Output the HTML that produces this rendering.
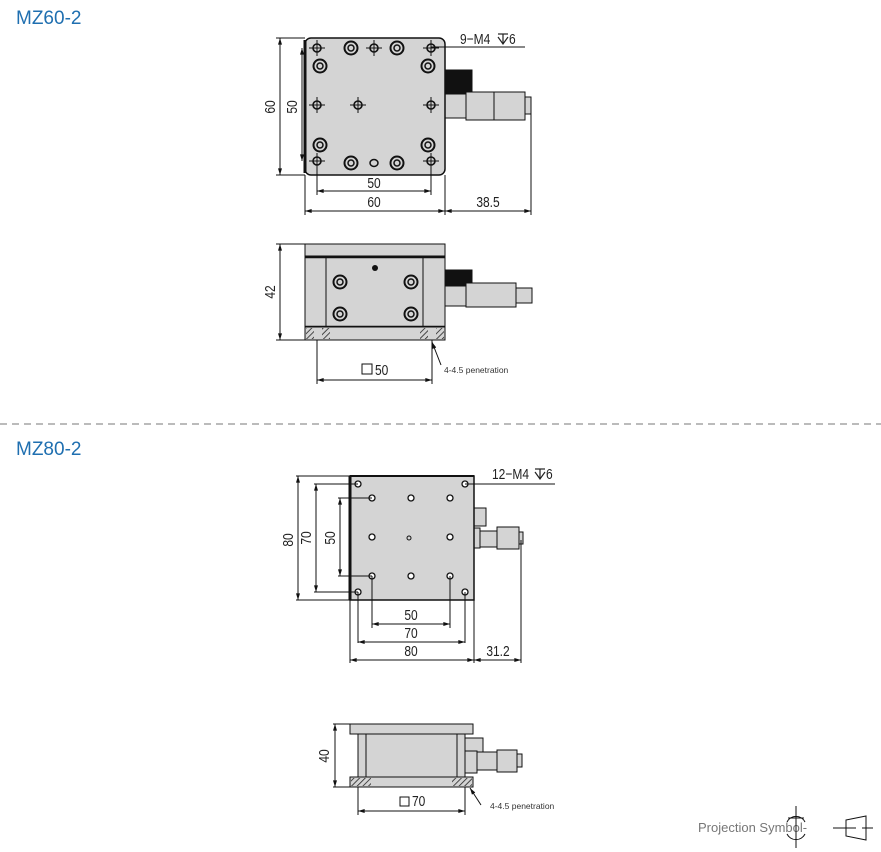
<!DOCTYPE html>
<html><head><meta charset="utf-8"><style>
body{margin:0;background:#fff;width:881px;height:852px;overflow:hidden}
svg{display:block}
.t{font-family:"Liberation Sans",sans-serif;font-size:15px;fill:#222}
.h{font-family:"Liberation Sans",sans-serif;font-size:19px;fill:#1f6fb0}
.s{font-family:"Liberation Sans",sans-serif;font-size:8.5px;fill:#333}
</style></head><body>
<svg width="881" height="852" viewBox="0 0 881 852" xmlns="http://www.w3.org/2000/svg">
<defs>
<marker id="a" viewBox="0 0 10 6" refX="10" refY="3" markerWidth="8" markerHeight="4" orient="auto-start-reverse"><path d="M0,0L10,3L0,6z" fill="#111"/></marker>
<pattern id="hp" width="4" height="4" patternUnits="userSpaceOnUse" patternTransform="rotate(45)"><rect width="4" height="4" fill="#d4d4d4"/><line x1="0" y1="0" x2="0" y2="4" stroke="#222" stroke-width="1.6"/></pattern>
<g id="big"><circle r="6.5" fill="none" stroke="#111" stroke-width="2"/><circle r="3" fill="none" stroke="#111" stroke-width="1.5"/></g>
<g id="sm"><circle r="4" fill="none" stroke="#111" stroke-width="1.6"/><line x1="-8" x2="8" stroke="#111"/><line y1="-8" y2="8" stroke="#111"/></g>
<g id="h8"><circle r="3" fill="#fff" stroke="#111" stroke-width="1.3"/></g>
<g id="dp" stroke="#222" stroke-width="1.2" fill="none"><line x1="-5" y1="-10" x2="5" y2="-10"/><line x1="0" y1="-10" x2="0" y2="0"/><path d="M-5,-7 L0,0 L5,-7"/></g>
</defs>
<text class="h" x="16" y="24">MZ60-2</text>
<text class="h" x="16" y="455">MZ80-2</text>
<line x1="0" y1="424" x2="881" y2="424" stroke="#777" stroke-dasharray="7,5"/>

<!-- MZ60 top -->
<g stroke="#111" fill="none">
<rect x="445" y="92" width="22" height="26" fill="#d4d4d4"/>
<rect x="446" y="70" width="26" height="24" fill="#111"/>
<rect x="466" y="92" width="59" height="28" fill="#d4d4d4"/>
<line x1="494" y1="92" x2="494" y2="120"/>
<rect x="525" y="97" width="6" height="17" fill="#d4d4d4"/>
<rect x="305" y="38" width="140" height="137" rx="6" fill="#d4d4d4" stroke-width="1.5"/>
<line x1="305" y1="40" x2="305" y2="173" stroke-width="3"/>
</g>
<use href="#sm" x="317" y="48"/><use href="#sm" x="374" y="48"/><use href="#sm" x="431" y="48"/>
<use href="#sm" x="317" y="161"/><use href="#sm" x="431" y="161"/>
<use href="#sm" x="317" y="105"/><use href="#sm" x="358" y="105"/><use href="#sm" x="431" y="105"/>
<use href="#big" x="351" y="48"/><use href="#big" x="397" y="48"/><use href="#big" x="320" y="66"/><use href="#big" x="428" y="66"/>
<use href="#big" x="320" y="145"/><use href="#big" x="428" y="145"/><use href="#big" x="351" y="163"/><use href="#big" x="397" y="163"/>
<ellipse cx="374" cy="163" rx="4" ry="3.5" fill="none" stroke="#111" stroke-width="1.5"/>
<g stroke="#111" stroke-width="1" fill="none">
<line x1="276" y1="38" x2="305" y2="38"/><line x1="276" y1="175" x2="305" y2="175"/>
<line x1="280" y1="38" x2="280" y2="175" marker-start="url(#a)" marker-end="url(#a)"/>
<line x1="302" y1="48" x2="302" y2="161" marker-start="url(#a)" marker-end="url(#a)"/>
<line x1="305" y1="175" x2="305" y2="215"/><line x1="445" y1="175" x2="445" y2="215"/><line x1="531" y1="114" x2="531" y2="215"/>
<line x1="317" y1="161" x2="317" y2="195"/><line x1="431" y1="161" x2="431" y2="195"/>
<line x1="317" y1="191" x2="431" y2="191" marker-start="url(#a)" marker-end="url(#a)"/>
<line x1="305" y1="211" x2="445" y2="211" marker-start="url(#a)" marker-end="url(#a)"/>
<line x1="445" y1="211" x2="531" y2="211" marker-start="url(#a)" marker-end="url(#a)"/>
<line x1="431" y1="47" x2="525" y2="47"/>
</g>
<text class="t" transform="translate(275,107) rotate(-90) scale(0.8,1)" text-anchor="middle">60</text>
<text class="t" transform="translate(297,107) rotate(-90) scale(0.8,1)" text-anchor="middle">50</text>
<text class="t" transform="translate(374,188) scale(0.8,1)" text-anchor="middle">50</text>
<text class="t" transform="translate(374,207) scale(0.8,1)" text-anchor="middle">60</text>
<text class="t" transform="translate(488,207) scale(0.8,1)" text-anchor="middle">38.5</text>
<text class="t" transform="translate(460,44) scale(0.8,1)">9−M4</text>
<use href="#dp" x="503" y="44"/>
<text class="t" transform="translate(509,44) scale(0.8,1)">6</text>

<!-- MZ60 side -->
<g stroke="#111" fill="none">
<rect x="445" y="282" width="22" height="24" fill="#d4d4d4"/>
<rect x="446" y="270" width="26" height="16" fill="#111"/>
<rect x="466" y="283" width="50" height="24" fill="#d4d4d4"/>
<rect x="516" y="288" width="16" height="15" fill="#d4d4d4"/>
<rect x="305" y="244" width="140" height="12" fill="#d4d4d4"/>
<rect x="305" y="256" width="140" height="71" fill="#d4d4d4"/>
<line x1="305" y1="257" x2="445" y2="257" stroke-width="2.5"/>
<line x1="305" y1="327" x2="445" y2="327" stroke-width="2.5"/>
<line x1="326" y1="257" x2="326" y2="327"/><line x1="423" y1="257" x2="423" y2="327"/>
<rect x="305" y="327" width="140" height="13" fill="#d4d4d4"/>
<rect x="306" y="328" width="24" height="11" fill="url(#hp)" stroke="none"/>
<rect x="420" y="328" width="24" height="11" fill="url(#hp)" stroke="none"/>
<rect x="314" y="328" width="8" height="11" fill="#d4d4d4" stroke="none"/>
<rect x="428" y="328" width="8" height="11" fill="#d4d4d4" stroke="none"/>
</g>
<use href="#big" x="340" y="282"/><use href="#big" x="411" y="282"/><use href="#big" x="340" y="314"/><use href="#big" x="411" y="314"/>
<circle cx="375" cy="268" r="3" fill="#111"/>
<g stroke="#111" fill="none">
<line x1="276" y1="244" x2="305" y2="244"/><line x1="276" y1="340" x2="305" y2="340"/>
<line x1="280" y1="244" x2="280" y2="340" marker-start="url(#a)" marker-end="url(#a)"/>
<line x1="317" y1="340" x2="317" y2="384"/><line x1="432" y1="340" x2="432" y2="384"/>
<line x1="317" y1="380" x2="432" y2="380" marker-start="url(#a)" marker-end="url(#a)"/>
<line x1="441" y1="365" x2="432" y2="342" marker-end="url(#a)"/>
<rect x="362" y="364" width="10" height="10"/>
</g>
<text class="t" transform="translate(275,292) rotate(-90) scale(0.8,1)" text-anchor="middle">42</text>
<text class="t" transform="translate(375,375) scale(0.8,1)">50</text>
<text class="s" x="444" y="373">4-4.5 penetration</text>

<!-- MZ80 top -->
<g stroke="#111" fill="none">
<rect x="474" y="508" width="12" height="18" fill="#d4d4d4"/>
<rect x="474" y="528" width="6" height="20" fill="#d4d4d4"/>
<rect x="480" y="531" width="17" height="16" fill="#d4d4d4"/>
<rect x="497" y="527" width="22" height="22" fill="#d4d4d4"/>
<rect x="519" y="532" width="4" height="12" fill="#d4d4d4"/>
<rect x="350" y="476" width="124" height="124" fill="#d4d4d4" stroke-width="1.5"/>
<line x1="350" y1="476" x2="350" y2="600" stroke-width="3"/>
<line x1="350" y1="476" x2="474" y2="476" stroke-width="2"/>
</g>
<use href="#h8" x="358" y="484"/><use href="#h8" x="465" y="484"/><use href="#h8" x="358" y="592"/><use href="#h8" x="465" y="592"/>
<use href="#h8" x="372" y="498"/><use href="#h8" x="411" y="498"/><use href="#h8" x="450" y="498"/>
<use href="#h8" x="372" y="537"/><circle cx="409" cy="538" r="2" fill="none" stroke="#111"/><use href="#h8" x="450" y="537"/>
<use href="#h8" x="372" y="576"/><use href="#h8" x="411" y="576"/><use href="#h8" x="450" y="576"/>
<g stroke="#111" fill="none">
<line x1="296" y1="476" x2="350" y2="476"/><line x1="296" y1="600" x2="350" y2="600"/>
<line x1="298" y1="476" x2="298" y2="600" marker-start="url(#a)" marker-end="url(#a)"/>
<line x1="314" y1="484" x2="358" y2="484"/><line x1="314" y1="592" x2="358" y2="592"/>
<line x1="316" y1="484" x2="316" y2="592" marker-start="url(#a)" marker-end="url(#a)"/>
<line x1="338" y1="498" x2="372" y2="498"/><line x1="338" y1="576" x2="372" y2="576"/>
<line x1="340" y1="498" x2="340" y2="576" marker-start="url(#a)" marker-end="url(#a)"/>
<line x1="372" y1="576" x2="372" y2="628"/><line x1="450" y1="576" x2="450" y2="628"/>
<line x1="358" y1="592" x2="358" y2="643"/><line x1="465" y1="592" x2="465" y2="643"/>
<line x1="350" y1="600" x2="350" y2="663"/><line x1="474" y1="600" x2="474" y2="663"/><line x1="521" y1="540" x2="521" y2="663"/>
<line x1="372" y1="624" x2="450" y2="624" marker-start="url(#a)" marker-end="url(#a)"/>
<line x1="358" y1="642" x2="465" y2="642" marker-start="url(#a)" marker-end="url(#a)"/>
<line x1="350" y1="660" x2="474" y2="660" marker-start="url(#a)" marker-end="url(#a)"/>
<line x1="474" y1="660" x2="521" y2="660" marker-start="url(#a)" marker-end="url(#a)"/>
<line x1="465" y1="484" x2="555" y2="484"/>
</g>
<text class="t" transform="translate(293,540) rotate(-90) scale(0.8,1)" text-anchor="middle">80</text>
<text class="t" transform="translate(311,538) rotate(-90) scale(0.8,1)" text-anchor="middle">70</text>
<text class="t" transform="translate(335,538) rotate(-90) scale(0.8,1)" text-anchor="middle">50</text>
<text class="t" transform="translate(411,620) scale(0.8,1)" text-anchor="middle">50</text>
<text class="t" transform="translate(411,638) scale(0.8,1)" text-anchor="middle">70</text>
<text class="t" transform="translate(411,656) scale(0.8,1)" text-anchor="middle">80</text>
<text class="t" transform="translate(498,656) scale(0.8,1)" text-anchor="middle">31.2</text>
<text class="t" transform="translate(492,479) scale(0.8,1)">12−M4</text>
<use href="#dp" x="540" y="479"/>
<text class="t" transform="translate(546,479) scale(0.8,1)">6</text>

<!-- MZ80 side -->
<g stroke="#111" fill="none">
<rect x="465" y="738" width="18" height="14" fill="#d4d4d4"/>
<rect x="465" y="751" width="12" height="22" fill="#d4d4d4"/>
<rect x="477" y="752" width="20" height="18" fill="#d4d4d4"/>
<rect x="497" y="750" width="20" height="22" fill="#d4d4d4"/>
<rect x="517" y="754" width="5" height="13" fill="#d4d4d4"/>
<rect x="350" y="724" width="123" height="10" fill="#d4d4d4"/>
<rect x="358" y="734" width="107" height="43" fill="#d4d4d4"/>
<line x1="366" y1="734" x2="366" y2="777"/><line x1="457" y1="734" x2="457" y2="777"/>
<rect x="350" y="777" width="123" height="10" fill="#d4d4d4"/>
<rect x="351" y="778" width="20" height="8" fill="url(#hp)" stroke="none"/>
<rect x="452" y="778" width="20" height="8" fill="url(#hp)" stroke="none"/>
<line x1="333" y1="724" x2="350" y2="724"/><line x1="333" y1="787" x2="350" y2="787"/>
<line x1="335" y1="724" x2="335" y2="787" marker-start="url(#a)" marker-end="url(#a)"/>
<line x1="358" y1="787" x2="358" y2="815"/><line x1="465" y1="787" x2="465" y2="815"/>
<line x1="358" y1="811" x2="465" y2="811" marker-start="url(#a)" marker-end="url(#a)"/>
<line x1="481" y1="805" x2="470" y2="788" marker-end="url(#a)"/>
<rect x="400" y="797" width="9" height="9"/>
</g>
<text class="t" transform="translate(329,756) rotate(-90) scale(0.8,1)" text-anchor="middle">40</text>
<text class="t" transform="translate(412,806) scale(0.8,1)">70</text>
<text class="s" x="490" y="809">4-4.5 penetration</text>

<!-- projection symbol -->
<text x="698" y="832" style="font-family:'Liberation Sans',sans-serif;font-size:13px;fill:#777">Projection Symbol-</text>
<g stroke="#111" fill="none" stroke-width="1">
<line x1="796" y1="806" x2="796" y2="848"/>
<line x1="788" y1="818" x2="804" y2="818"/>
<path d="M787,822 A10,10 0 0 1 805,822"/><path d="M787,834 A10,10 0 0 0 805,834"/>
<line x1="833" y1="828" x2="873" y2="828"/>
<path d="M846,820 L866,816 L866,840 L846,836 Z"/>
<line x1="856" y1="828" x2="862" y2="828" stroke="#fff" stroke-width="2"/>
</g>
</svg>
</body></html>
